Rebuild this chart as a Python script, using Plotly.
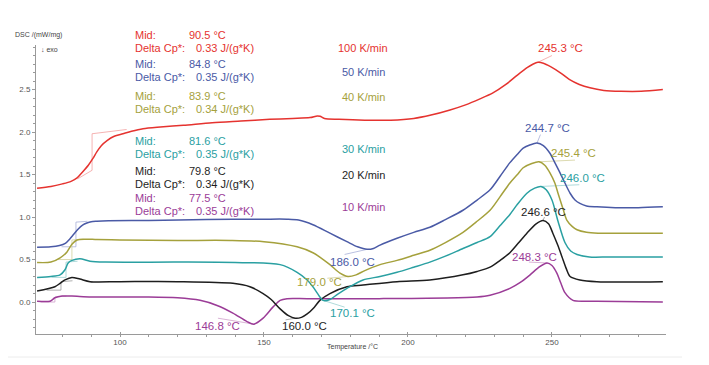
import plotly.graph_objects as go

# ---------------- data ----------------
rates = ["100 K/min", "50 K/min", "40 K/min", "30 K/min", "20 K/min", "10 K/min"]
tg_mid = [90.5, 84.8, 83.9, 81.6, 79.8, 77.5]
delta_cp = [0.33, 0.35, 0.34, 0.35, 0.34, 0.35]
peak_T = [245.3, 244.7, 245.4, 246.0, 246.6, 248.3]
cryst_T = [None, 186.0, 179.0, 170.1, 160.0, 146.8]

red_T = [71.2, 76, 80, 83, 85.1, 87, 89, 90.6, 92, 93.5, 95.5, 98, 101, 104, 108, 114, 122, 132, 142, 152,
         160, 166, 168.5, 169.5, 171, 176, 185, 194, 202, 208, 214.6, 220, 225, 229.5, 234, 238, 241.5,
         243.5, 245.1, 247, 249.5, 252.8, 256, 259.5, 263.2, 268, 274, 281, 288.5]
red_y = [1.34, 1.36, 1.39, 1.42, 1.46, 1.53, 1.61, 1.69, 1.77, 1.84, 1.90, 1.95, 1.98, 2.01, 2.04, 2.06,
         2.08, 2.11, 2.13, 2.15, 2.16, 2.17, 2.19, 2.185, 2.16, 2.15, 2.14, 2.14, 2.16, 2.20, 2.26, 2.32,
         2.39, 2.46, 2.56, 2.67, 2.76, 2.80, 2.82, 2.81, 2.77, 2.70, 2.62, 2.56, 2.52, 2.49, 2.48, 2.48, 2.50]

blue_T = [71.2, 76, 79, 81, 82.5, 84, 85.5, 87, 88.5, 90, 92, 96, 110, 130, 150, 158, 162, 167, 172.9,
          178.8, 182.5, 185.8, 188, 190.3, 196.2, 202, 207.6, 213, 219.1, 224, 228.5, 232, 235.4, 238,
          240, 242.5, 244.8, 247, 249.3, 251, 252.8, 254.5, 256.3, 258, 259.7, 262, 265.6, 272, 280, 288.5]
blue_y = [0.645, 0.65, 0.665, 0.69, 0.74, 0.80, 0.86, 0.905, 0.93, 0.945, 0.95, 0.955, 0.96, 0.97, 0.975,
          0.975, 0.965, 0.91, 0.81, 0.71, 0.65, 0.62, 0.63, 0.67, 0.75, 0.82, 0.88, 0.97, 1.08, 1.20,
          1.32, 1.48, 1.64, 1.74, 1.81, 1.85, 1.87, 1.84, 1.75, 1.64, 1.52, 1.40, 1.28, 1.20, 1.16, 1.13,
          1.12, 1.11, 1.11, 1.12]

olive_T = [71.2, 76, 79.2, 81.6, 83.3, 85.1, 87.8, 92, 100, 120, 138.2, 150, 161.5, 167, 172.9, 176.4,
           179.2, 182, 185, 190.3, 196.2, 202, 207.6, 213, 219.1, 224, 228.5, 232, 235.4, 238, 240, 243,
           245.5, 247.5, 249.3, 251, 252.1, 253.8, 255.2, 257, 258.7, 262, 266, 275, 288.5]
olive_y = [0.465, 0.47, 0.52, 0.59, 0.68, 0.73, 0.74, 0.735, 0.73, 0.725, 0.725, 0.71, 0.65, 0.58, 0.44,
           0.34, 0.30, 0.32, 0.37, 0.44, 0.49, 0.55, 0.61, 0.70, 0.82, 0.95, 1.08, 1.24, 1.40, 1.50, 1.58,
           1.63, 1.65, 1.61, 1.52, 1.40, 1.28, 1.10, 0.96, 0.89, 0.85, 0.82, 0.81, 0.81, 0.81]

teal_T = [71.2, 76, 79.2, 80.9, 82, 83.3, 86.1, 89.6, 95, 120, 140, 155.6, 161.5, 165, 167, 169.4, 170.5,
          172.9, 175.5, 178.8, 184.4, 190.3, 196.2, 202, 207.6, 213, 219.1, 224, 228.5, 232, 235.4, 238,
          241.3, 244, 246.2, 248, 250, 252.1, 254.5, 256.5, 258.7, 263, 270, 288.5]
teal_y = [0.29, 0.30, 0.32, 0.38, 0.46, 0.49, 0.51, 0.48, 0.47, 0.47, 0.465, 0.44, 0.35, 0.26, 0.18, 0.06,
          0.02, 0.03, 0.09, 0.16, 0.26, 0.30, 0.35, 0.41, 0.47, 0.54, 0.63, 0.70, 0.77, 0.90, 1.03, 1.15,
          1.28, 1.34, 1.36, 1.32, 1.20, 0.95, 0.70, 0.60, 0.56, 0.53, 0.53, 0.53]

black_T = [71.2, 77.4, 79.2, 80.9, 83.3, 86.1, 89.6, 100, 120, 139.2, 145.1, 149.7, 152.5, 155.6, 158.5,
           160.8, 163, 165, 167.5, 169.4, 172.9, 178.8, 184.4, 196.2, 207.6, 219.1, 224, 228.5, 232,
           235.4, 238.5, 241.3, 244.5, 246.9, 248.8, 250.3, 252, 253.5, 255, 256.3, 259.7, 265.6, 288.5]
black_y = [0.13, 0.18, 0.22, 0.26, 0.29, 0.27, 0.24, 0.24, 0.24, 0.22, 0.18, 0.10, 0.03, -0.08, -0.16,
           -0.19, -0.18, -0.14, -0.06, 0.02, 0.10, 0.18, 0.20, 0.24, 0.26, 0.32, 0.36, 0.41, 0.49, 0.58,
           0.70, 0.81, 0.92, 0.96, 0.92, 0.81, 0.67, 0.53, 0.39, 0.30, 0.26, 0.24, 0.24]

mag_T = [71.2, 75.7, 77.4, 79.9, 83.3, 90, 110, 120, 127.8, 133.7, 139.2, 144.1, 146.5, 149.7, 153.1,
         155.6, 158, 165, 190, 224, 228.5, 235.4, 239, 242.4, 245.5, 248.3, 250, 251.7, 253, 254.5,
         257.3, 262, 265.6, 288.5]
mag_y = [0.01, 0.01, 0.05, 0.07, 0.07, 0.06, 0.06, 0.05, 0.02, -0.04, -0.13, -0.23, -0.26, -0.19, -0.06,
         0.02, 0.04, 0.04, 0.04, 0.06, 0.08, 0.16, 0.23, 0.32, 0.41, 0.46, 0.43, 0.34, 0.23, 0.11, 0.02,
         0.01, 0.01, 0.0]

series_T = [red_T, blue_T, olive_T, teal_T, black_T, mag_T]
series_y = [red_y, blue_y, olive_y, teal_y, black_y, mag_y]

y_ticks = [0.0, 0.5, 1.0, 1.5, 2.0, 2.5]
x_ticks = [100, 150, 200, 250]

# Tg construction segments (step onset/end): (T, y_low, y_high)
tg_step_T = [90.3, 84.7, 83.3, 81.25, 79.5, 77.4]
tg_step_lo = [1.55, 0.65, 0.50, 0.29, 0.14, 0.00]
tg_step_hi = [1.98, 0.94, 0.73, 0.47, 0.24, 0.06]

# ---------------- styling / positions ----------------
colors = ["#e5332f", "#4a5aa6", "#a5a13c", "#2aa0a2", "#1e1e1e", "#9b3c97"]
light = ["#f2a09e", "#a8b0d8", "#d3d09c", "#9ad0d0", "#9a9a9a", "#d0a0cc"]
FONT = "Liberation Sans, Arial, sans-serif"

X0, X1 = 70.83, 289.6
Y0, Y1 = -0.376, 3.024


def px_(x):
    return (x - X0) / (X1 - X0)


def py_(y):
    return (y - Y0) / (Y1 - Y0)


fig = go.Figure()

# Tg construction lines
for i in range(6):
    t, lo, hi = tg_step_T[i], tg_step_lo[i], tg_step_hi[i]
    sx = [t, t, None, t - 5, t, None, t, t + (12 if i == 0 else 4)]
    sy = [lo, hi, None, lo - (0.1 if i == 0 else 0.0), lo, None, hi, hi + (0.05 if i == 0 else 0.01)]
    fig.add_trace(go.Scatter(x=sx, y=sy, mode="lines", line=dict(color=light[i], width=0.8),
                             hoverinfo="skip", showlegend=False))

# leader lines for peak / crystallisation labels
peak_lead = [(250.0, 2.90), (246.0, 1.97), (258.0, 1.67), (259.5, 1.38), (247.4, 1.0), (242.0, 0.47)]
cryst_lead = [None, (178.0, 0.56), (172.0, 0.28), (178.0, -0.06), (157.5, -0.21), (134.0, -0.19)]
for i in range(6):
    T, Y = series_T[i], series_y[i]
    k = max(range(len(Y)), key=lambda j: Y[j] if T[j] > 200 else -9)
    lx, ly = peak_lead[i]
    xs, ys = [T[k], lx], [Y[k], ly]
    if cryst_lead[i] is not None:
        m = min(range(len(Y)), key=lambda j: Y[j] if 130 < T[j] < 200 else 9)
        cx, cy = cryst_lead[i]
        xs += [None, T[m], cx]
        ys += [None, Y[m], cy]
    fig.add_trace(go.Scatter(x=xs, y=ys, mode="lines", line=dict(color=light[i], width=0.8),
                             hoverinfo="skip", showlegend=False))

# curves (draw from bottom to top so red is on top)
for i in reversed(range(6)):
    fig.add_trace(go.Scatter(x=series_T[i], y=series_y[i], mode="lines", name=rates[i],
                             line=dict(color=colors[i], width=1.5, shape="spline", smoothing=0.8),
                             showlegend=False))

annotations = []


def label(x, y, text, color, size=11.5, anchor="center"):
    annotations.append(dict(xref="paper", yref="paper", x=px_(x), y=py_(y), text=text, showarrow=False,
                            xanchor=anchor, yanchor="middle",
                            font=dict(size=size, color=color, family=FONT)))


# Mid / Delta Cp blocks
mid_y = [3.14, 2.80, 2.42, 1.89, 1.54, 1.22]
for i in range(6):
    label(104.5, mid_y[i], "Mid:", colors[i], size=11, anchor="left")
    label(123.4, mid_y[i], f"{tg_mid[i]:.1f} °C", colors[i], size=11, anchor="left")
    label(104.5, mid_y[i] - 0.152, "Delta Cp*:", colors[i], size=11, anchor="left")
    label(125.8, mid_y[i] - 0.152, f"{delta_cp[i]:.2f} J/(g*K)", colors[i], size=11, anchor="left")

# heating-rate labels
rate_y = [2.99, 2.71, 2.41, 1.80, 1.49, 1.12]
for i in range(6):
    label(184.4, rate_y[i], rates[i], colors[i], size=11)

# peak labels
peak_pos = [(252.8, 2.99), (248.6, 2.05), (257.5, 1.75), (260.6, 1.46), (246.9, 1.06), (244.1, 0.53)]
for i in range(6):
    label(peak_pos[i][0], peak_pos[i][1], f"{peak_T[i]:.1f} °C", colors[i])

# crystallisation labels
cryst_pos = [None, (180.6, 0.47), (169.4, 0.235), (180.6, -0.13), (164.2, -0.28), (134.0, -0.28)]
for i in range(6):
    if cryst_T[i] is not None:
        label(cryst_pos[i][0], cryst_pos[i][1], f"{cryst_T[i]:.1f} °C", colors[i])

# axis titles (paper coordinates relative to plot area: 630 x 289 px)
annotations.append(dict(xref="paper", yref="paper", x=(13 - 36) / 630, y=(334 - 35) / 289,
                        text="DSC /(mW/mg)", showarrow=False, xanchor="left", yanchor="middle",
                        font=dict(size=7, color="#444", family=FONT)))
annotations.append(dict(xref="paper", yref="paper", x=(39 - 36) / 630, y=(334 - 49) / 289,
                        text="↓ exo", showarrow=False, xanchor="left", yanchor="middle",
                        font=dict(size=7, color="#444", family=FONT)))
annotations.append(dict(xref="paper", yref="paper", x=(352 - 36) / 630, y=(334 - 347) / 289,
                        text="Temperature /°C", showarrow=False, xanchor="center", yanchor="middle",
                        font=dict(size=7, color="#444", family=FONT)))

axis_common = dict(showgrid=False, zeroline=False, showline=True, linecolor="#9a9a9a", linewidth=1,
                   tickcolor="#9a9a9a", tickwidth=1,
                   tickfont=dict(size=8, color="#555", family=FONT))

# the page body has an 8px margin, so the figure is offset by 8px; sizes compensate
fig.update_layout(
    width=701, height=357,
    margin=dict(l=28, r=43, t=37, b=31),
    paper_bgcolor="white", plot_bgcolor="white",
    font=dict(family=FONT),
    showlegend=False,
    annotations=annotations,
    shapes=[dict(type="line", xref="paper", yref="paper", x0=-28 / 630, x1=(682 - 36) / 630,
                 y0=(334 - 357) / 289, y1=(334 - 357) / 289, line=dict(color="#ececec", width=1))],
    xaxis=dict(range=[X0, X1], tickvals=x_ticks, ticktext=[str(v) for v in x_ticks],
               ticks="inside", ticklen=2,
               minor=dict(dtick=10, tick0=0, ticks="outside", ticklen=2, tickcolor="#9a9a9a"),
               **axis_common),
    yaxis=dict(range=[Y0, Y1], tickvals=y_ticks, ticktext=[f"{v:.1f}" for v in y_ticks],
               ticks="outside", ticklen=3,
               minor=dict(dtick=0.1, tick0=0, ticks="outside", ticklen=2, tickcolor="#9a9a9a"),
               **axis_common),
)

fig.write_html("out.html")
